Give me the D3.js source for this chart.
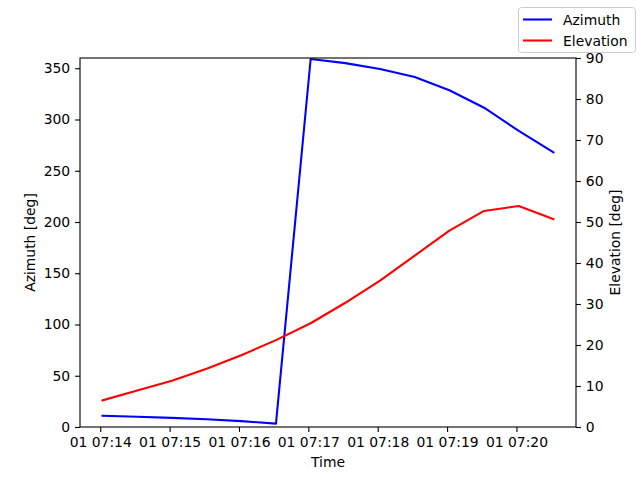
<!DOCTYPE html>
<html><head><meta charset="utf-8">
<script src="https://cdn.jsdelivr.net/npm/d3@7"></script>
<style>body{margin:0;background:#fff}svg{display:block}text{font-family:"DejaVu Sans",sans-serif}</style>
</head><body><svg id="c" width="640" height="480"></svg>
<script>
const startTime = "2024-01-01T07:14:02";
const stepSeconds = 30;
const azimuth = [11.0, 10.0, 8.9, 7.5, 5.7, 3.3, 359.0, 355.0, 349.3, 341.5, 328.5, 311.5, 288.8, 268.0];
const elevation = [6.5, 8.9, 11.3, 14.2, 17.5, 21.2, 25.3, 30.3, 35.7, 41.8, 47.9, 52.7, 53.9, 50.7];
const azTicks = [0, 50, 100, 150, 200, 250, 300, 350];
const elTicks = [0, 10, 20, 30, 40, 50, 60, 70, 80, 90];
const seriesNames = ["Azimuth", "Elevation"];
const seriesColors = ["#0000ff", "#ff0000"];

const t0 = new Date(startTime);
const times = azimuth.map((d, i) => new Date(t0.getTime() + i * stepSeconds * 1000));

const svg = d3.select("#c");
const L = 80, R = 576, T = 58, B = 427;
const fs = 13.9;

const [tmin, tmax] = d3.extent(times);
const pad = (tmax - tmin) * 0.05;
const x = d3.scaleTime().domain([new Date(+tmin - pad), new Date(+tmax + pad)]).range([L, R]);
const yA = d3.scaleLinear().domain([0, 360]).range([B, T]);
const yE = d3.scaleLinear().domain([0, 90]).range([B, T]);

const lineA = d3.line().x((d, i) => x(times[i])).y(d => yA(d));
const lineE = d3.line().x((d, i) => x(times[i])).y(d => yE(d));

svg.append("path").attr("d", lineA(azimuth)).attr("fill", "none").attr("stroke", seriesColors[0]).attr("stroke-width", 2.08).attr("stroke-linejoin", "round").attr("stroke-linecap", "square");
svg.append("path").attr("d", lineE(elevation)).attr("fill", "none").attr("stroke", seriesColors[1]).attr("stroke-width", 2.08).attr("stroke-linejoin", "round").attr("stroke-linecap", "square");

const xTicks = d3.range(0, 7).map(m => new Date(2024, 0, 1, 7, 14 + m, 0));
const fmt = d3.timeFormat("%d %H:%M");

function styleAxis(g) {
  g.select(".domain").remove();
  g.selectAll(".tick line").attr("stroke", "#000").attr("stroke-width", 1.1);
  g.selectAll(".tick text").attr("fill", "#000").style("font-size", fs + "px").style("font-family", "DejaVu Sans");
}

svg.append("g").attr("transform", `translate(0,${B})`)
  .call(d3.axisBottom(x).tickValues(xTicks).tickFormat(fmt).tickSize(4.9).tickPadding(4.9))
  .call(styleAxis);
svg.append("g").attr("transform", `translate(${L},0)`)
  .call(d3.axisLeft(yA).tickValues(azTicks).tickSize(4.9).tickPadding(4.9))
  .call(styleAxis);
svg.append("g").attr("transform", `translate(${R},0)`)
  .call(d3.axisRight(yE).tickValues(elTicks).tickSize(4.9).tickPadding(4.9))
  .call(styleAxis);

svg.append("rect").attr("x", L).attr("y", T).attr("width", R - L).attr("height", B - T)
  .attr("fill", "none").attr("stroke", "#000").attr("stroke-width", 1.1);

svg.append("text").attr("x", (L + R) / 2).attr("y", 467).attr("text-anchor", "middle").style("font-size", fs + "px").text("Time");
svg.append("text").attr("transform", `translate(35,${(T + B) / 2}) rotate(-90)`).attr("text-anchor", "middle").style("font-size", fs + "px").text("Azimuth [deg]");
svg.append("text").attr("transform", `translate(620,${(T + B) / 2}) rotate(-90)`).attr("text-anchor", "middle").style("font-size", fs + "px").text("Elevation [deg]");

// legend
const lg = svg.append("g");
lg.append("rect").attr("x", 518.5).attr("y", 7.5).attr("width", 117).attr("height", 45).attr("rx", 3)
  .attr("fill", "#fff").attr("fill-opacity", 0.8).attr("stroke", "#cccccc").attr("stroke-width", 1);
seriesNames.forEach((n, i) => {
  const yy = 19.5 + i * 21;
  lg.append("line").attr("x1", 523).attr("x2", 552).attr("y1", yy).attr("y2", yy).attr("stroke", seriesColors[i]).attr("stroke-width", 2.08);
  lg.append("text").attr("x", 563).attr("y", yy + 5).style("font-size", fs + "px").text(n);
});
</script></body></html>
